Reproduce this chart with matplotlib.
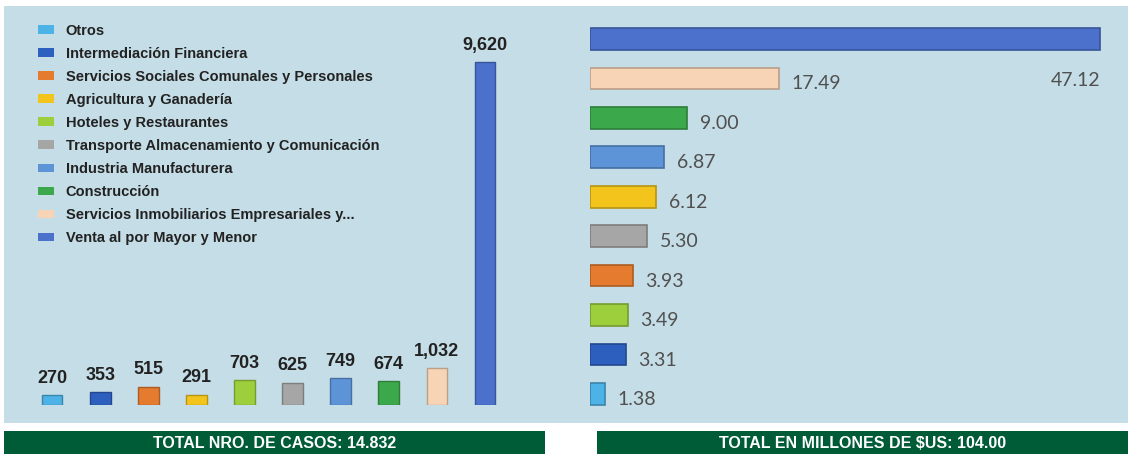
"""Casos y montos por actividad económica: barras verticales (casos) y horizontales (millones $US)."""
import matplotlib
matplotlib.use("Agg")
import matplotlib.pyplot as plt
from matplotlib.patches import Patch, Rectangle

categorias = [
    "Otros",
    "Intermediación Financiera",
    "Servicios Sociales Comunales y Personales",
    "Agricultura y Ganadería",
    "Hoteles y Restaurantes",
    "Transporte Almacenamiento y Comunicación",
    "Industria Manufacturera",
    "Construcción",
    "Servicios Inmobiliarios Empresariales y...",
    "Venta al por Mayor y Menor",
]
casos = [270, 353, 515, 291, 703, 625, 749, 674, 1032, 9620]
montos = [1.38, 3.31, 3.93, 6.12, 3.49, 5.30, 6.87, 9.00, 17.49, 47.12]
colores = ["#4db2e6", "#2d5fbf", "#e57b2e", "#f3c51c", "#9dcf3d",
           "#a6a6a6", "#5d94d8", "#3ba84b", "#f8d4b6", "#4b71cc"]
total_casos = "TOTAL NRO. DE CASOS: 14.832"
total_montos = "TOTAL EN MILLONES DE $US: 104.00"

W, H = 1128, 454
PANEL = "#c5dde6"
VERDE = "#005c36"
SANS = ["Liberation Sans", "DejaVu Sans"]
LATO = ["Lato", "DejaVu Sans"]


def fx(px):
    return px / W


def fy(py):
    return 1 - py / H


def darker(c, f=0.75):
    r, g, b = matplotlib.colors.to_rgb(c)
    return (r * f, g * f, b * f)


fig = plt.figure(figsize=(W / 100, H / 100), dpi=100)
fig.patch.set_facecolor("white")
fig.patches.append(Rectangle((fx(4), fy(423)), fx(1124), 417 / H, transform=fig.transFigure,
                             facecolor=PANEL, edgecolor="none", zorder=-10))

# panel izquierdo: casos
ax1 = fig.add_axes([fx(30), fy(405), fx(480), 375 / H])
ax1.set_facecolor("none")
xs = range(len(casos))
ax1.bar(xs, casos, width=0.43, color=colores, edgecolor=[darker(c) for c in colores], linewidth=1)
for x, v in zip(xs, casos):
    ax1.annotate(f"{v:,}", (x, v), xytext=(0, 6), textcoords="offset points", ha="center",
                 va="bottom", fontsize=13, fontweight="bold", color="#222222", family=SANS)
ax1.set_xlim(-0.46, 9.52)
ax1.set_ylim(0, 10520)
ax1.axis("off")

handles = [Patch(facecolor=c, edgecolor="none") for c in colores]
leg = fig.legend(handles, categorias, loc="upper left", bbox_to_anchor=(fx(32), fy(18)),
                 frameon=False, handlelength=1.1, handleheight=0.55, handletextpad=0.8,
                 labelspacing=0.62, borderaxespad=0, prop={"family": SANS, "weight": "bold", "size": 10.5})
for t in leg.get_texts():
    t.set_color("#222222")

# panel derecho: montos
orden = sorted(range(len(montos)), key=lambda i: -montos[i])
ax2 = fig.add_axes([fx(590), fy(414), fx(530), 394 / H])
ax2.set_facecolor("none")
for pos, i in enumerate(orden):
    ax2.barh(pos, montos[i], height=0.55, color=colores[i], edgecolor=darker(colores[i]), linewidth=1.2)
    if pos == 0:
        ax2.annotate(f"{montos[i]:.2f}", (montos[i], pos + 1.05), ha="right", va="center",
                     fontsize=14, color="#505050", family=LATO)
    else:
        ax2.annotate(f"{montos[i]:.2f}", (montos[i], pos), xytext=(9, -4), textcoords="offset points",
                     ha="left", va="center", fontsize=14, color="#505050", family=LATO)
ax2.set_xlim(0, 47.12 * 530 / 510)
ax2.set_ylim(9.51, -0.48)
ax2.axis("off")

# cajas de totales
for x0, x1, txt in [(4, 545, total_casos), (597, 1128, total_montos)]:
    fig.patches.append(Rectangle((fx(x0), fy(454)), fx(x1 - x0), 23 / H, transform=fig.transFigure,
                                 facecolor=VERDE, edgecolor="none", zorder=-10))
    fig.text(fx((x0 + x1) / 2), fy(443), txt, ha="center", va="center", color="white",
             fontsize=11.5, fontweight="bold", family=SANS)

fig.savefig("out.png", dpi=100, facecolor=fig.get_facecolor())
